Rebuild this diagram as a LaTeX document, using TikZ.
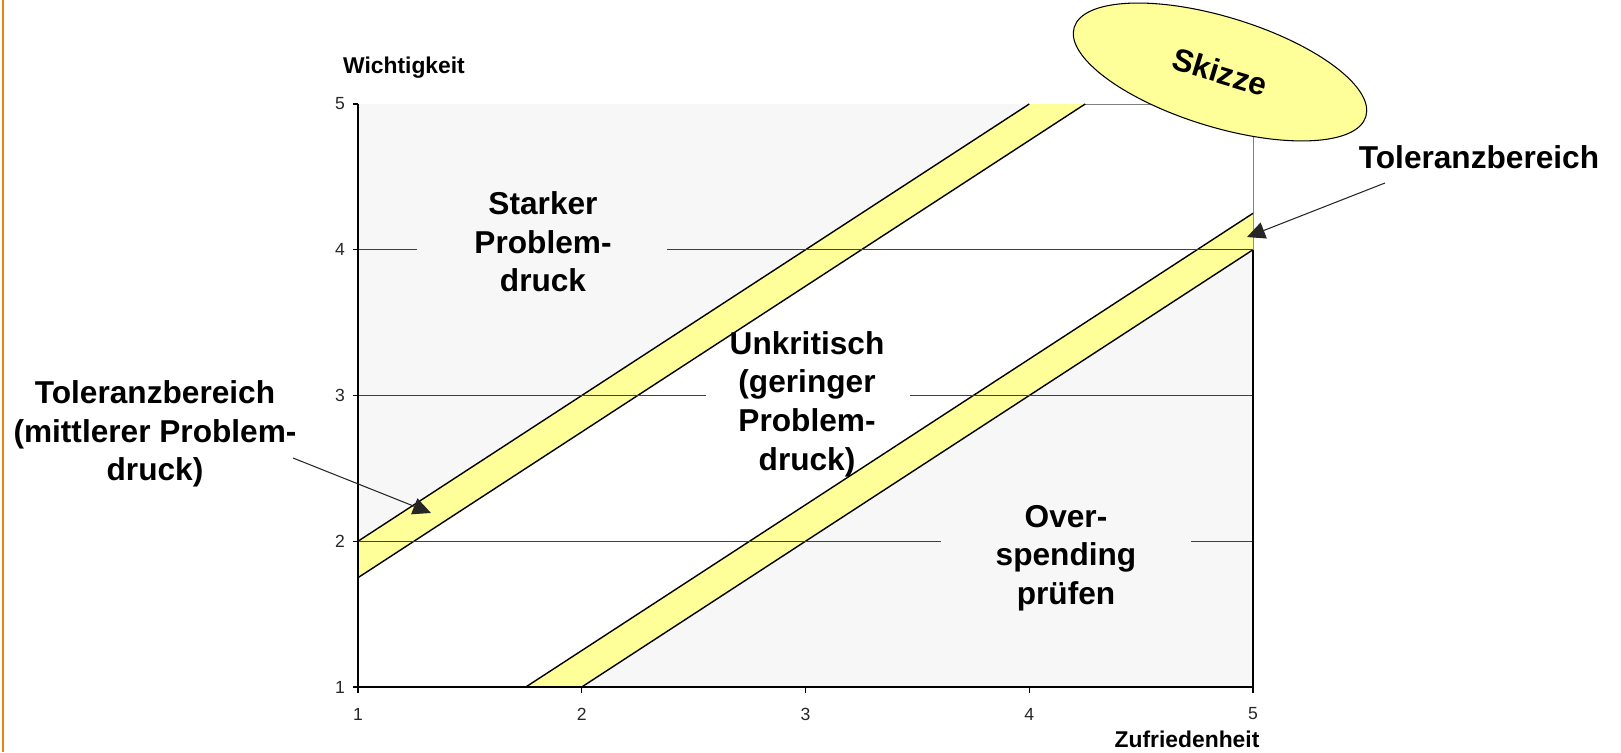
\documentclass[tikz,border=0pt]{standalone}
\usepackage{fontspec}
\setmainfont{Liberation Sans}
\usetikzlibrary{shapes.geometric,arrows.meta}
\definecolor{band}{RGB}{255,255,153}
\definecolor{zone}{RGB}{247,247,247}
\definecolor{rand}{RGB}{240,128,16}
\tikzset{
  region/.style={font=\fontsize{18}{22}\selectfont\bfseries, align=center},
  axtitle/.style={font=\fontsize{13}{15}\selectfont\bfseries},
  ticklbl/.style={font=\fontsize{10}{12}\selectfont, text=black!85},
  bandline/.style={line width=0.8pt},
  gridline/.style={draw=black!75, line width=0.6pt}
}
\begin{document}
\begin{tikzpicture}[>={Triangle[length=0.36cm,width=0.34cm]}]
  \useasboundingbox (0,0) rectangle (32.42,15.04);
  \draw[rand, line width=1.4pt] (0.06,0) -- (0.06,15.04);
  % Diagrammflaeche in Datenkoordinaten
  \begin{scope}[shift={(2.685cm,-1.615cm)}, x=4.475cm, y=2.915cm]
    \draw[gray, line width=0.5pt] (1,1) rectangle (5,5);
    \fill[zone] (1,2) -- (4,5) -- (1,5) -- cycle;
    \fill[zone] (2,1) -- (5,4) -- (5,1) -- cycle;
    \fill[band] (1,1.75) -- (1,2) -- (4,5) -- (4.25,5) -- cycle;
    \fill[band] (1.75,1) -- (5,4.25) -- (5,4) -- (2,1) -- cycle;
    \draw[bandline] (1,2) -- (4,5) (1,1.75) -- (4.25,5);
    \draw[bandline] (1.75,1) -- (5,4.25) (2,1) -- (5,4);
    \draw[gridline] (1,4) -- (1.264,4) (2.381,4) -- (5,4);
    \draw[gridline] (1,3) -- (2.555,3) (3.467,3) -- (5,3);
    \draw[gridline] (1,2) -- (3.606,2) (4.723,2) -- (5,2);
    \draw[line width=1pt] (5,4) -- (5,1);
    \draw[line width=1pt] (1,5) -- (1,1) -- (5,1);
    \foreach \i in {1,...,5} {
      \draw[line width=0.8pt] (\i,1) -- ++(0pt,-0.12cm);
      \draw[line width=0.8pt] (1,\i) -- ++(-0.1cm,0pt);
      \node[ticklbl] (xt\i) at (\i,0.815) {\i};
      \node[ticklbl] (yt\i) at (0.92,\i) {\i};
    }
    \coordinate (tipL) at (1.326,2.194);
    \coordinate (tipR) at (4.973,4.087);
  \end{scope}
  \node[axtitle] (wicht) at (8.08,13.68) {Wichtigkeit};
  \node[axtitle] (zufr) at (23.74,0.25) {Zufriedenheit};
  \node[region] (stark) at (10.86,10.20) {Starker\\Problem-\\druck};
  \node[region] (unkrit) at (16.14,6.96) {Unkritisch\\(geringer\\Problem-\\druck)};
  \node[region] (over) at (21.32,3.88) {Over-\\spending\\prüfen};
  \node[region] (tolL) at (3.10,6.36) {Toleranzbereich\\(mittlerer Problem-\\druck)};
  \node[region] (tolR) at (29.58,11.90) {Toleranzbereich};
  \node[region, ellipse, draw, fill=band, line width=0.6pt, minimum width=6.1cm,
        minimum height=2.2cm, rotate=-17] (skizze) at (24.4,13.6) {Skizze};
  \coordinate (fromL) at (5.86,5.88);
  \coordinate (fromR) at (27.70,11.38);
  \draw[->, black!85, line width=0.6pt] (fromL) -- (tipL);
  \draw[->, black!85, line width=0.6pt] (fromR) -- (tipR);
\end{tikzpicture}
\end{document}
